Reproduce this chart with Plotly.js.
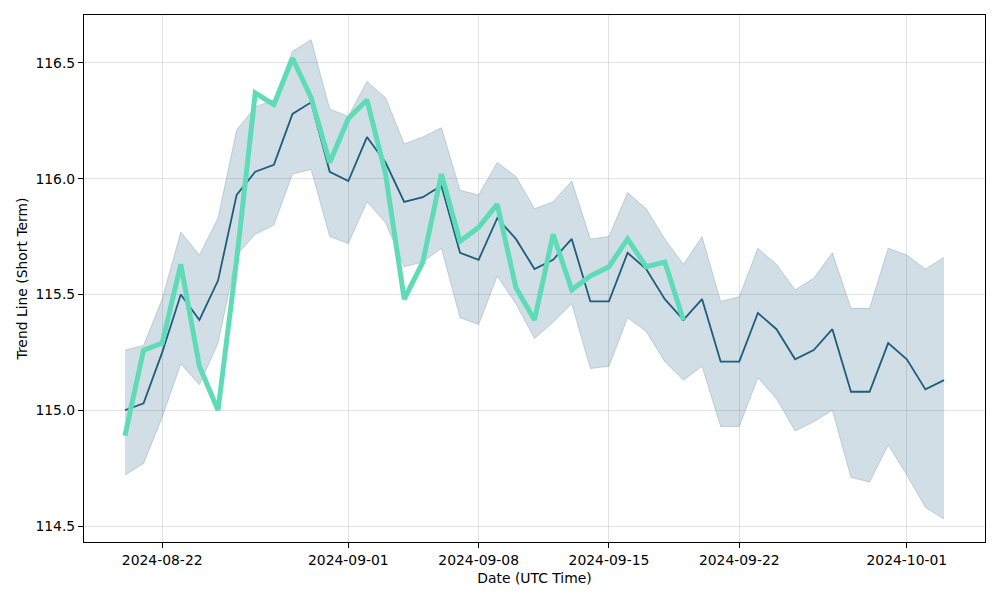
<!DOCTYPE html>
<html>
<head>
<meta charset="utf-8">
<script src="https://cdn.plot.ly/plotly-3.0.1.min.js"></script>
<style>html,body{margin:0;padding:0;background:#fff}#chart{width:1000px;height:600px}</style>
</head>
<body>
<div id="chart"></div>
<script>
const dates = [
  "2024-08-20","2024-08-21","2024-08-22","2024-08-23","2024-08-24","2024-08-25","2024-08-26","2024-08-27","2024-08-28","2024-08-29",
  "2024-08-30","2024-08-31","2024-09-01","2024-09-02","2024-09-03","2024-09-04","2024-09-05","2024-09-06","2024-09-07","2024-09-08",
  "2024-09-09","2024-09-10","2024-09-11","2024-09-12","2024-09-13","2024-09-14","2024-09-15","2024-09-16","2024-09-17","2024-09-18",
  "2024-09-19","2024-09-20","2024-09-21","2024-09-22","2024-09-23","2024-09-24","2024-09-25","2024-09-26","2024-09-27","2024-09-28",
  "2024-09-29","2024-09-30","2024-10-01","2024-10-02","2024-10-03"
];
const trendMean = [
  115.00,115.03,115.25,115.50,115.39,115.56,115.93,116.03,116.06,116.28,
  116.33,116.03,115.99,116.18,116.07,115.90,115.92,115.97,115.68,115.65,
  115.83,115.74,115.61,115.65,115.74,115.47,115.47,115.68,115.61,115.48,
  115.39,115.48,115.21,115.21,115.42,115.35,115.22,115.26,115.35,115.08,
  115.08,115.29,115.22,115.09,115.13
];
const upperBand = [
  115.26,115.28,115.48,115.77,115.67,115.83,116.21,116.31,116.34,116.55,
  116.60,116.30,116.27,116.42,116.35,116.15,116.18,116.22,115.95,115.93,
  116.07,116.01,115.87,115.90,115.99,115.74,115.75,115.94,115.87,115.74,
  115.63,115.75,115.47,115.49,115.70,115.63,115.52,115.57,115.68,115.44,
  115.44,115.70,115.67,115.61,115.66
];
const lowerBand = [
  114.72,114.77,114.97,115.20,115.11,115.29,115.67,115.76,115.80,116.02,
  116.04,115.75,115.72,115.90,115.81,115.62,115.64,115.70,115.40,115.37,
  115.58,115.46,115.31,115.38,115.46,115.18,115.19,115.40,115.34,115.21,
  115.13,115.19,114.93,114.93,115.14,115.05,114.91,114.95,115.00,114.71,
  114.69,114.85,114.72,114.58,114.53
];
const actualDates = dates.slice(0, 31);
const actualValues = [
  114.89,115.26,115.29,115.63,115.19,115.00,115.65,116.37,116.32,116.52,
  116.35,116.07,116.26,116.34,116.02,115.48,115.64,116.02,115.73,115.79,
  115.89,115.53,115.39,115.76,115.52,115.58,115.62,115.74,115.62,115.64,
  115.39
];
const xTicks = ["2024-08-22","2024-09-01","2024-09-08","2024-09-15","2024-09-22","2024-10-01"];
const yTicks = [114.5,115.0,115.5,116.0,116.5];

const bandLine = {color:"rgba(30,90,130,0.22)", width:1};
const traces = [
  {x:dates, y:lowerBand, type:"scatter", mode:"lines", line:bandLine, showlegend:false, hoverinfo:"skip"},
  {x:dates, y:upperBand, type:"scatter", mode:"lines", line:bandLine, fill:"tonexty", fillcolor:"rgba(30,90,130,0.2)", showlegend:false, hoverinfo:"skip"},
  {x:dates, y:trendMean, type:"scatter", mode:"lines", line:{color:"#1d5d7e", width:1.8}, showlegend:false},
  {x:actualDates, y:actualValues, type:"scatter", mode:"lines", line:{color:"#5fdcb7", width:5}, showlegend:false}
];

const axisCommon = {
  showline:true, linecolor:"#000", linewidth:1, mirror:true,
  ticks:"outside", ticklen:5, tickwidth:1, tickcolor:"#000",
  showgrid:true, gridcolor:"rgba(0,0,0,0.11)", gridwidth:1,
  zeroline:false,
  tickfont:{family:"DejaVu Sans", size:13.9, color:"#000"}
};
const layout = {
  width:1000, height:600,
  margin:{l:84, r:15, t:15, b:58},
  paper_bgcolor:"#fff", plot_bgcolor:"#fff",
  font:{family:"DejaVu Sans", size:13.9, color:"#000"},
  xaxis: Object.assign({}, axisCommon, {
    type:"date",
    range:["2024-08-17 19:12","2024-10-05 04:48"],
    tickvals:xTicks, ticktext:xTicks,
    title:{text:"Date (UTC Time)", font:{family:"DejaVu Sans", size:13.9}, standoff:6}
  }),
  yaxis: Object.assign({}, axisCommon, {
    range:[114.431,116.707],
    tickvals:yTicks, ticktext:yTicks.map(v=>v.toFixed(1)),
    title:{text:"Trend Line (Short Term)", font:{family:"DejaVu Sans", size:13.9}, standoff:4}
  }),
  showlegend:false
};
Plotly.newPlot("chart", traces, layout, {displayModeBar:false, staticPlot:true});
</script>
</body>
</html>
